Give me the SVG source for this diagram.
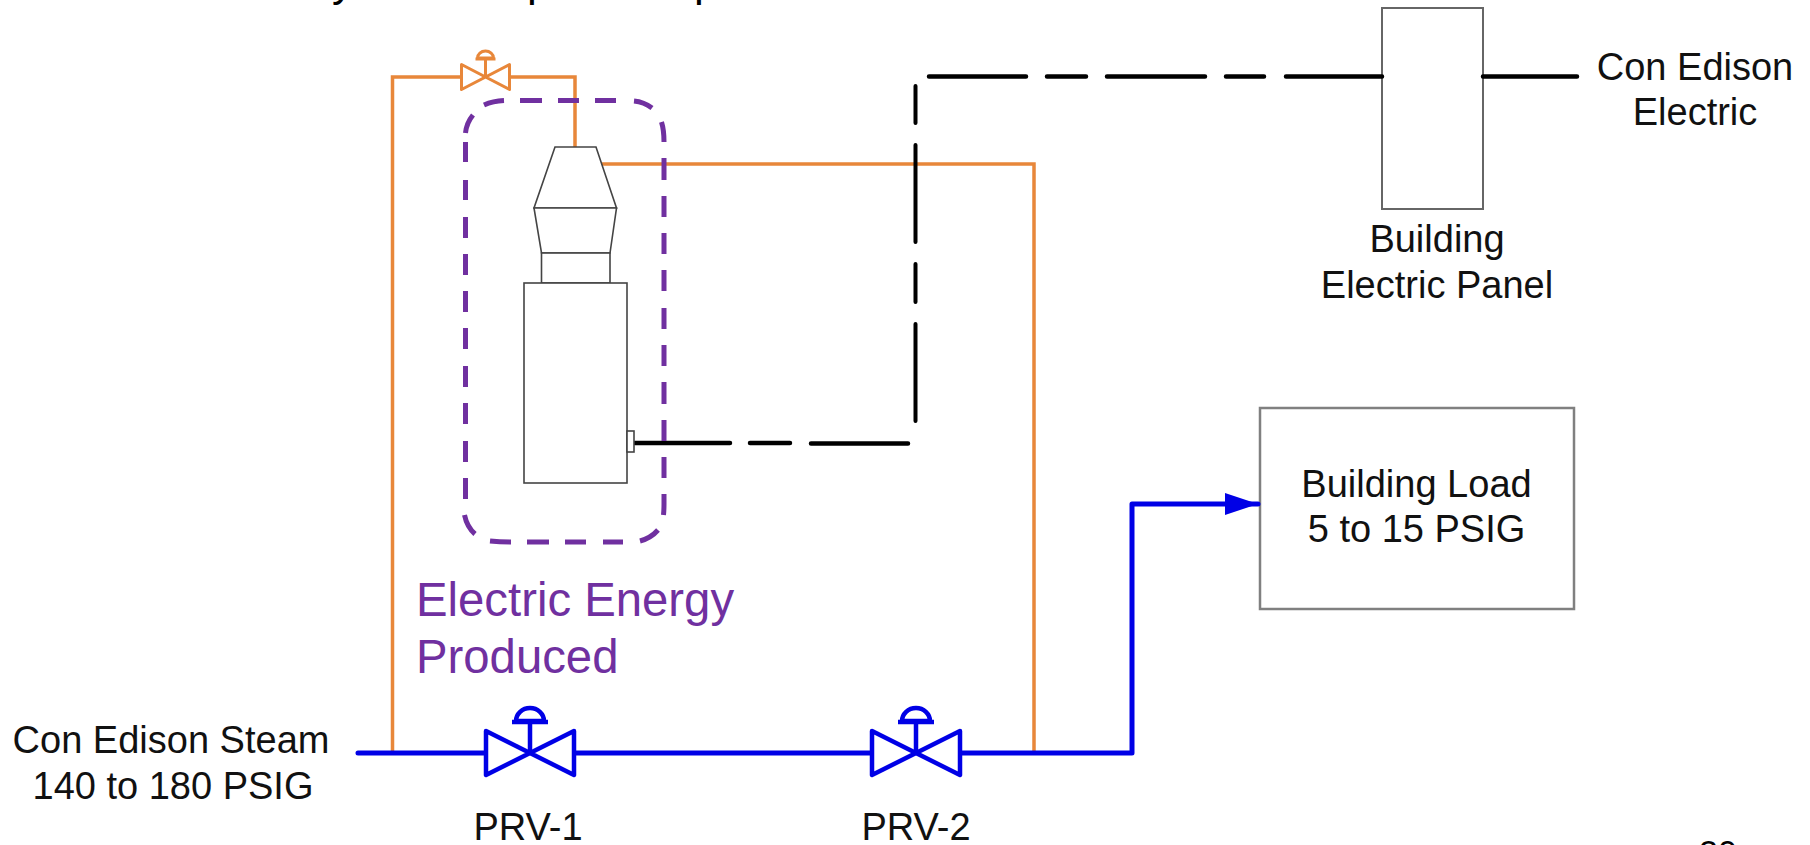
<svg xmlns="http://www.w3.org/2000/svg" width="1810" height="845" viewBox="0 0 1810 845">
<style>
text{font-family:"Liberation Sans",Arial,sans-serif;fill:#111}
.m{text-anchor:middle}
.l38{font-size:38px}
.p{font-size:47.3px;fill:#7030A0}
.o{fill:none;stroke:#E8873A;stroke-width:3.5;stroke-linejoin:miter}
.b{fill:none;stroke:#0000E6;stroke-width:5;stroke-linecap:round;stroke-linejoin:round}
.k{fill:none;stroke:#000;stroke-width:4.5;stroke-linecap:round}
.kv{fill:none;stroke:#000;stroke-width:4;stroke-linecap:round}
.box{fill:#fff;stroke:#666;stroke-width:2}
.box2{fill:#fff;stroke:#808080;stroke-width:2.5}
.mach{fill:#fff;stroke:#444;stroke-width:1.6;stroke-linejoin:miter}
.vb{fill:#fff;stroke:#0000E6;stroke-width:4.5;stroke-linejoin:round}
.vo{fill:#fff;stroke:#E8873A;stroke-width:3;stroke-linejoin:round}
.dash{fill:none;stroke:#7030A0;stroke-width:5}
</style>
<defs>
<marker id="arrow" markerUnits="userSpaceOnUse" markerWidth="34" markerHeight="24" refX="33" refY="11" orient="auto">
<path d="M0,0 L33,11 L0,22 Z" fill="#0000E6"/>
</marker>
</defs>
<rect width="1810" height="845" fill="#fff"/>

<g id="clipped-text">
<text x="332" y="-4" font-size="44" style="fill:#000">y</text>
<text x="527" y="-4" font-size="44" style="fill:#000">p</text>
<text x="694" y="-4" font-size="44" style="fill:#000">p</text>
<text x="1699" y="864" font-size="34" style="fill:#000">20</text>
</g>

<g id="building-panel">
<rect class="box" x="1382" y="8" width="101" height="201"/>
<text class="m l38" x="1437" y="252">Building</text>
<text class="m l38" x="1437" y="298">Electric Panel</text>
</g>

<g id="con-edison-electric">
<text class="m l38" x="1695" y="80">Con Edison</text>
<text class="m l38" x="1695" y="125">Electric</text>
</g>

<g id="building-load">
<rect class="box2" x="1260" y="408" width="314" height="201"/>
<text class="m l38" x="1416.500" y="497">Building Load</text>
<text class="m l38" x="1416.500" y="542">5 to 15 PSIG</text>
</g>

<g id="connectors">
<path class="o" d="M392.500,753 V77 H461 M510,77 H575 V148"/>
<path class="o" d="M602,164 H1034 V753"/>
<path class="k" d="M635,443 H730 M750,443 H790 M811,443.500 H908"/>
<path class="kv" d="M915.500,421 V324 M915.500,302 V264 M915.500,242 V145 M915.500,123 V86"/>
<path class="k" d="M929,76.500 H1026 M1047,76.500 H1086 M1107,76.500 H1205 M1226,76.500 H1264 M1286,76.500 H1382 M1483,76.500 H1577"/>
<path class="b" d="M358,753 H486 M574,753 H872 M960,753 H1132 V504 H1258" marker-end="url(#arrow)"/>
</g>

<g id="turbine-generator">
<path class="mach" d="M555,147 H596 L616.500,208 H534 Z"/>
<path class="mach" d="M534,208 H616.500 L610,253 H541.500 Z"/>
<rect class="mach" x="541.500" y="253" width="68.500" height="30"/>
<rect class="mach" x="524" y="283" width="103" height="200"/>
<rect class="mach" x="627" y="431" width="7" height="21"/>
</g>

<g id="electric-boundary">
<path class="dash" d="M465.500,499 V478 M465.500,462 V441 M465.500,424 V403 M465.500,387 V366 M465.500,349 V328 M465.500,312 V291 M465.500,275 V254 M465.500,238 V217 M465.500,200 V180 M465.500,162 V142 M465.500,133 Q466.500,123 473,115 M484,105 Q493,101 504,100.500 M520,100.500 H542 M558,100.500 H579 M595,100.500 H616 M634,101 Q644,102 652,108 M661.500,122 Q664,130 664,142 M664,158 V180 M664,196 V217 M664,233 V254 M664,270 V291 M664,308 V329 M664,345 V366 M664,382 V404 M664,420 V441 M664,457 V478 M664,494 V504 Q664,510 663.500,515 M658,530 Q651,538 640,541 M623,542 H603 M586,542 H565 M549,542 H527 M511,542 Q500,542 490,541 M475,534 Q467,527 464.500,515"/>
<text class="p" x="416" y="616">Electric Energy</text>
<text class="p" x="416" y="673">Produced</text>
</g>

<g id="bypass-valve" transform="translate(485.500,77)">
<path class="vo" d="M-24,-12.500 L24,12.500 V-12.500 L-24,12.500 Z"/>
<path class="vo" d="M0,0 V-18 M-10,-18 H10 M-8,-19 A8,7 0 0 1 8,-19 Z"/>
</g>

<g id="prv-1" transform="translate(530,753)">
<path class="vb" d="M-44,-22 L44,22 V-22 L-44,22 Z"/>
<path class="vb" d="M0,0 V-31 M-18,-31 H18 M-14,-32 A14,13 0 0 1 14,-32 Z"/>
<text class="m l38" x="-2" y="87">PRV-1</text>
</g>

<g id="prv-2" transform="translate(916,753)">
<path class="vb" d="M-44,-22 L44,22 V-22 L-44,22 Z"/>
<path class="vb" d="M0,0 V-31 M-18,-31 H18 M-14,-32 A14,13 0 0 1 14,-32 Z"/>
<text class="m l38" x="0" y="87">PRV-2</text>
</g>

<g id="con-edison-steam">
<text class="m l38" x="171" y="753">Con Edison Steam</text>
<text class="m l38" x="173" y="799">140 to 180 PSIG</text>
</g>
</svg>
